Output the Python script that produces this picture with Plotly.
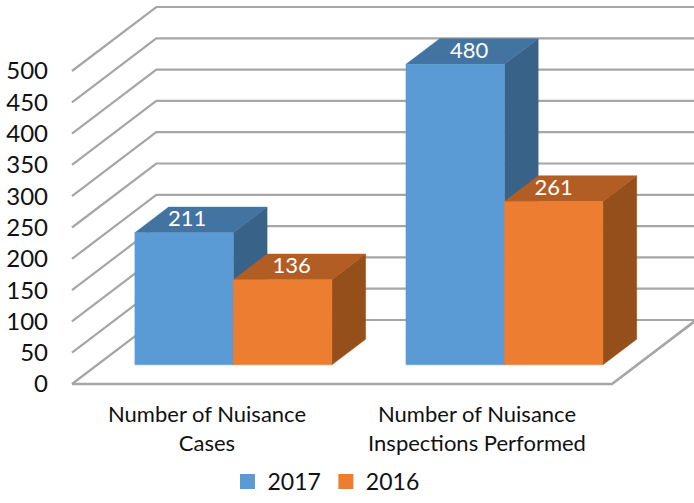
import plotly.graph_objects as go

# Data
categories = ["Number of Nuisance<br>Cases", "Number of Nuisance<br>Inspections Performed"]
series_names = ["2017", "2016"]
values_2017 = [211, 480]
values_2016 = [136, 261]
y_ticks = [0, 50, 100, 150, 200, 250, 300, 350, 400, 450, 500]

# Styles
FRONT = ["#5b9bd5", "#ed7d31"]
TOP = ["#4374a1", "#b25d24"]
SIDE = ["#386287", "#954f1b"]
GRID = "#a6a6a6"
FONT = "Lato"

# Screen scale of the axes
PX_PER_CAT = 270.0
PX_PER_VAL = 0.626

# Oblique projection, in axis units per full depth of the chart
DX = 84.3 / PX_PER_CAT
DY = 64.0 / PX_PER_VAL
BAR_W = 98.5 / PX_PER_CAT
D0, D1 = 0.30, 0.70


def proj(x, v, d):
    return x + DX * d, v + DY * d


def poly(points, color):
    xs, ys = zip(*points)
    return go.Scatter(x=list(xs) + [xs[0]], y=list(ys) + [ys[0]], mode="lines", fill="toself",
                      fillcolor=color, line=dict(color=color, width=0.5), showlegend=False,
                      hoverinfo="skip")


fig = go.Figure()

# Wall gridlines and floor
for v in y_ticks:
    p0 = proj(0, v, 0)
    p1 = proj(0, v, 1)
    p2 = proj(2, v, 1)
    fig.add_trace(go.Scatter(x=[p0[0], p1[0], p2[0]], y=[p0[1], p1[1], p2[1]], mode="lines",
                             line=dict(color=GRID, width=2.2), showlegend=False,
                             hoverinfo="skip"))
p0, p1 = proj(0, 0, 0), proj(2, 0, 0)
p2 = proj(2, 0, 1)
fig.add_trace(go.Scatter(x=[p0[0], p1[0], p2[0]], y=[p0[1], p1[1], p2[1]], mode="lines",
                         line=dict(color=GRID, width=2.6), showlegend=False,
                         hoverinfo="skip"))

# Bars
label_offsets = {(0, 0): 0.011, (0, 1): 0.033, (1, 0): 0.052, (1, 1): 0.0}
label_x, label_y, label_t = [], [], []
for c in range(len(categories)):
    left = c * 1.004 + (1 - 2 * BAR_W) / 2 + 0.004
    for s, vals in enumerate([values_2017, values_2016]):
        v = vals[c]
        a = left + s * BAR_W
        b = a + BAR_W
        fig.add_trace(poly([proj(b, 0, D0), proj(b, 0, D1), proj(b, v, D1), proj(b, v, D0)], SIDE[s]))
        fig.add_trace(poly([proj(a, v, D0), proj(b, v, D0), proj(b, v, D1), proj(a, v, D1)], TOP[s]))
        fig.add_trace(poly([proj(a, 0, D0), proj(b, 0, D0), proj(b, v, D0), proj(a, v, D0)], FRONT[s]))
        lx, ly = proj((a + b) / 2 + label_offsets[(c, s)], v + 19, D0)
        label_x.append(lx)
        label_y.append(ly)
        label_t.append(str(v))

fig.add_trace(go.Scatter(x=label_x, y=label_y, text=label_t, mode="text", showlegend=False,
                         textposition="middle center", hoverinfo="skip",
                         textfont=dict(family=FONT, size=22, color="white")))

# Legend entries
for s, name in enumerate(series_names):
    fig.add_trace(go.Scatter(x=[None], y=[None], mode="markers", name=name,
                             marker=dict(symbol="square", size=15, color=FRONT[s])))

fig.update_layout(
    width=694, height=503, autosize=False,
    margin=dict(l=66, r=0, t=4, b=111),
    paper_bgcolor="white", plot_bgcolor="white",
    font=dict(family=FONT, color="#111111"),
    xaxis=dict(range=[-6 / PX_PER_CAT, 622 / PX_PER_CAT], tickmode="array", tickvals=[0.5, 1.5],
               ticktext=categories, showgrid=False, zeroline=False, showline=False, ticks="",
               automargin=False, tickfont=dict(family=FONT, size=22), ticklabelstandoff=7),
    yaxis=dict(range=[-8 / PX_PER_VAL, 380 / PX_PER_VAL], tickmode="array", tickvals=y_ticks,
               showgrid=False, zeroline=False, showline=False, ticks="",
               automargin=False, tickfont=dict(family=FONT, size=24), ticklabelstandoff=17),
    legend=dict(orientation="h", x=0.414, y=-0.232, xanchor="center", yanchor="middle",
                font=dict(family=FONT, size=23), bgcolor="rgba(0,0,0,0)",
                itemwidth=30, tracegroupgap=0),
)

fig.write_html("out.html", config={"displayModeBar": False},
               post_script="document.body.style.margin='0';")
